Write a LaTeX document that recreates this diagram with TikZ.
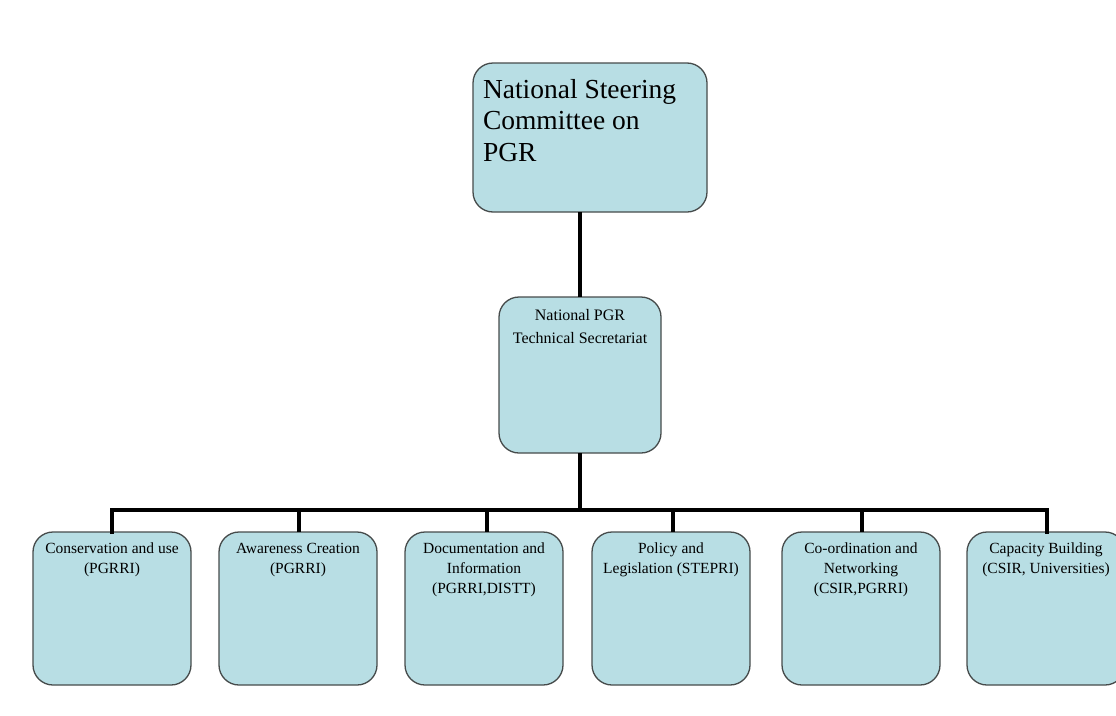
\documentclass[tikz,border=0pt]{standalone}
\usepackage{fontspec}
\setmainfont{Liberation Serif}
\definecolor{boxfill}{RGB}{184,222,228}
\definecolor{boxline}{RGB}{70,75,75}
\begin{document}
\begin{tikzpicture}[x=1pt,y=-1pt,
  orgbox/.style={draw=boxline,line width=1.3pt,fill=boxfill,rounded corners=20pt,
    anchor=north west,inner sep=0pt,outer sep=0pt},
  link/.style={line width=4pt,black}]
\useasboundingbox (0,0) rectangle (1116,715);
\node[orgbox] (top) at (473,63) {\parbox[c][149pt][t]{234pt}{\vspace{16pt}\hspace*{10pt}\fontsize{27.5}{31.5}\selectfont National Steering\\\hspace*{10pt}Committee on\\\hspace*{10pt}PGR}};
\node[orgbox] (mid) at (499,297) {\parbox[c][156pt][t]{162pt}{\centering\vspace{12pt}\fontsize{16}{23}\selectfont National PGR\\Technical Secretariat}};
\foreach \n/\x/\t in {b1/33/{Conservation and use\\(PGRRI)},
                      b2/219/{Awareness Creation\\(PGRRI)},
                      b3/405/{Documentation and\\Information\\(PGRRI,DISTT)},
                      b4/592/{Policy and\\Legislation (STEPRI)},
                      b5/782/{Co-ordination and\\Networking\\(CSIR,PGRRI)},
                      b6/967/{Capacity Building\\(CSIR, Universities)}}{
  \node[orgbox] (\n) at (\x,532) {\parbox[c][153pt][t]{158pt}{\centering\vspace{11pt}\fontsize{15.5}{20}\selectfont \t}};
}
\coordinate (bar) at (580,510);
\draw[link] (mid.north) -- (mid.north |- top.south);
\draw[link] (mid.south) -- (bar);
\draw[link,line cap=rect] (b1.north -| 112,0) |- (bar) -| (b6.north -| 1047,0);
\foreach \n/\x in {b2/299,b3/487,b4/673,b5/862}{
  \draw[link] (\x,510) -- (\n.north -| \x,0);
}
\end{tikzpicture}
\end{document}
